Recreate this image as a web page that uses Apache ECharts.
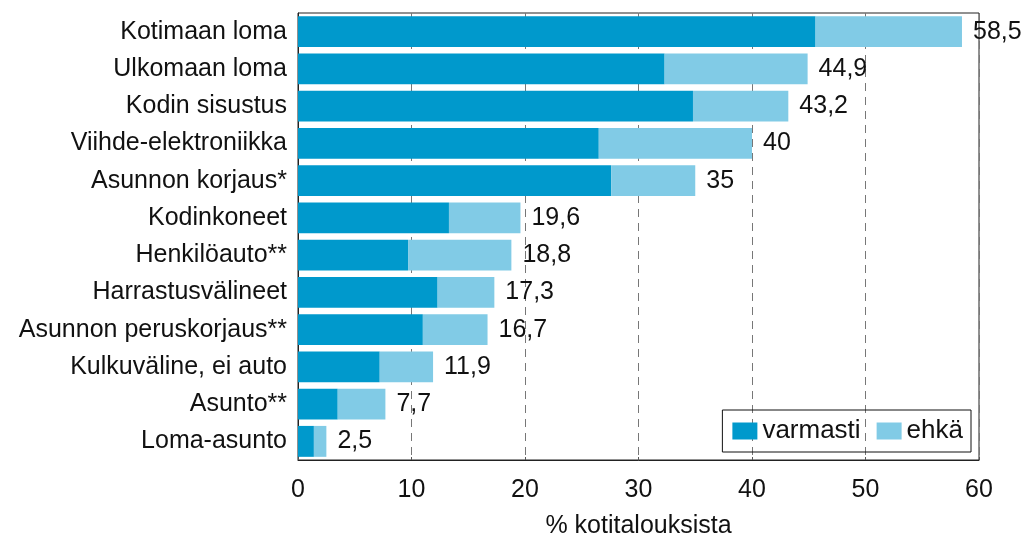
<!DOCTYPE html>
<html>
<head>
<meta charset="utf-8">
<script src="https://cdn.jsdelivr.net/npm/echarts@6/dist/echarts.min.js"></script>
<style>
  html, body { margin: 0; padding: 0; background: #fff; }
  #chart { width: 1025px; height: 540px; }
</style>
</head>
<body>
<div id="chart"></div>
<script>
  var categories = ['Kotimaan loma', 'Ulkomaan loma', 'Kodin sisustus', 'Viihde-elektroniikka',
    'Asunnon korjaus*', 'Kodinkoneet', 'Henkilöauto**', 'Harrastusvälineet',
    'Asunnon peruskorjaus**', 'Kulkuväline, ei auto', 'Asunto**', 'Loma-asunto'];
  var varmasti = [45.6, 32.3, 34.8, 26.5, 27.6, 13.3, 9.7, 12.3, 11.0, 7.2, 3.5, 1.4];
  var totals = [58.5, 44.9, 43.2, 40, 35, 19.6, 18.8, 17.3, 16.7, 11.9, 7.7, 2.5];
  var xTicks = [0, 10, 20, 30, 40, 50, 60];

  // ehkä = kokonaisosuus - varmasti
  var ehka = totals.map(function (t, i) { return +(t - varmasti[i]).toFixed(1); });

  var font = 'Liberation Sans, Arial, sans-serif';
  var chart = echarts.init(document.getElementById('chart'));
  chart.setOption({
    animation: false,
    textStyle: { fontFamily: font },
    grid: {
      left: 298, right: 46, top: 13, bottom: 80,
      outerBoundsMode: 'none',
      show: true, borderColor: '#222', borderWidth: 1
    },
    legend: {
      right: 54, bottom: 88,
      orient: 'horizontal',
      icon: 'rect',
      itemWidth: 25, itemHeight: 17, itemGap: 16,
      padding: [8, 8, 8, 10],
      borderColor: '#111', borderWidth: 1,
      textStyle: { fontSize: 26, color: '#111', fontFamily: font, padding: [2, 0, 0, 0] },
      data: ['varmasti', 'ehkä']
    },
    xAxis: {
      type: 'value',
      min: xTicks[0], max: xTicks[xTicks.length - 1], interval: 10,
      name: '% kotitalouksista',
      nameLocation: 'middle', nameGap: 54,
      nameTextStyle: { fontSize: 25, color: '#111', fontFamily: font },
      axisLine: { show: true, lineStyle: { color: '#222' } },
      axisTick: { show: true, inside: true, length: 3, lineStyle: { color: '#555' } },
      axisLabel: { fontSize: 25, color: '#111', margin: 18, fontFamily: font },
      splitLine: { show: true, lineStyle: { color: '#777', type: [8, 6] } }
    },
    yAxis: {
      type: 'category',
      inverse: true,
      data: categories,
      axisLine: { show: true, lineStyle: { color: '#222' } },
      axisTick: { show: false },
      axisLabel: { fontSize: 25, color: '#111', margin: 11, fontFamily: font, padding: [4, 0, 0, 0] }
    },
    series: [
      {
        name: 'varmasti', type: 'bar', stack: 'a',
        barWidth: '83%',
        itemStyle: { color: '#0099CC' },
        data: varmasti
      },
      {
        name: 'ehkä', type: 'bar', stack: 'a',
        barWidth: '83%',
        itemStyle: { color: '#81CBE6' },
        label: {
          show: true, position: 'right', distance: 11,
          fontSize: 25, color: '#111', fontFamily: font, padding: [4, 0, 0, 0],
          formatter: function (p) { return String(totals[p.dataIndex]).replace('.', ','); }
        },
        data: ehka
      }
    ]
  });
</script>
</body>
</html>
